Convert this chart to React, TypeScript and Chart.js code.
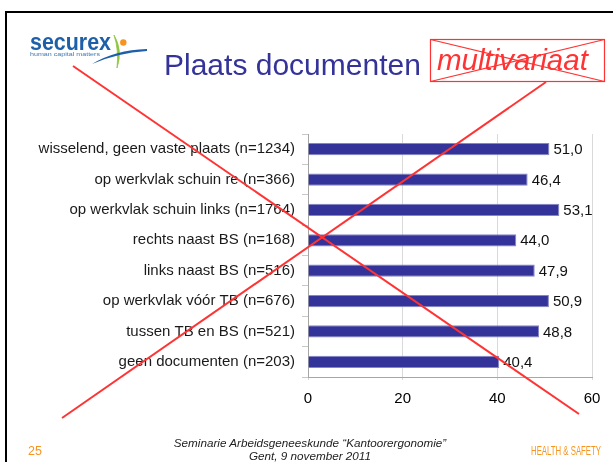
import React, { useEffect, useRef } from "react";
import { Chart, registerables } from "chart.js";
Chart.register(...registerables);

const categories = [
  "wisselend, geen vaste plaats (n=1234)",
  "op werkvlak schuin re (n=366)",
  "op werkvlak schuin links (n=1764)",
  "rechts naast BS (n=168)",
  "links naast BS (n=516)",
  "op werkvlak vóór TB (n=676)",
  "tussen TB en BS (n=521)",
  "geen documenten (n=203)",
];
const values = [51.0, 46.4, 53.1, 44.0, 47.9, 50.9, 48.8, 40.4];
const xTicks = [0, 20, 40, 60];
const titleText = "Plaats documenten";
const crossedText = "multivariaat";
const footerLine1 = "Seminarie Arbeidsgeneeskunde “Kantoorergonomie”";
const footerLine2 = "Gent, 9 november 2011";
const pageNumber = "25";
const brandText = "HEALTH & SAFETY";

const FAMILY = "'Liberation Sans', Arial, Helvetica, sans-serif";

const valueLabels = {
  id: "valueLabels",
  afterDatasetsDraw(chart: any) {
    const ctx = chart.ctx;
    const meta = chart.getDatasetMeta(0);
    ctx.save();
    ctx.font = `15px ${FAMILY}`;
    ctx.fillStyle = "#111";
    ctx.textAlign = "left";
    ctx.textBaseline = "middle";
    meta.data.forEach((bar: any, i: number) => {
      const v = chart.data.datasets[0].data[i] as number;
      ctx.fillText(v.toFixed(1).replace(".", ","), bar.x + 4, bar.y + 1);
    });
    ctx.restore();
  },
};

export default function App() {
  const ref = useRef<HTMLCanvasElement | null>(null);
  useEffect(() => {
    document.body.style.margin = "0";
    if (!ref.current) return;
    const chart = new Chart(ref.current, {
      type: "bar",
      data: {
        labels: categories,
        datasets: [
          {
            data: values,
            backgroundColor: "#333399",
            borderColor: "#8585c2",
            borderWidth: 1,
            barPercentage: 0.4,
            categoryPercentage: 1,
          },
        ],
      },
      options: {
        indexAxis: "y",
        responsive: false,
        animation: false,
        layout: { padding: { top: 134, right: 21, left: 0, bottom: 0 } },
        plugins: { legend: { display: false }, tooltip: { enabled: false } },
        scales: {
          x: {
            min: 0,
            max: 60,
            afterBuildTicks: (s: any) => {
              s.ticks = xTicks.map((v) => ({ value: v }));
            },
            grid: { color: "#d9d9d9", tickLength: 3, drawTicks: true },
            border: { color: "#a6a6a6" },
            ticks: {
              font: { size: 15, family: FAMILY },
              color: "#000",
              padding: 10,
              maxRotation: 0,
            },
            afterFit: (s: any) => {
              s.height = 85;
            },
          },
          y: {
            grid: { drawOnChartArea: false, tickLength: 6, color: "#c8c8c8" },
            border: { color: "#a6a6a6" },
            ticks: {
              font: { size: 15, family: FAMILY },
              color: "#1a1a1a",
              padding: 7,
            },
            afterFit: (s: any) => {
              s.width = 308;
            },
          },
        },
      },
      plugins: [valueLabels],
    } as any);
    return () => chart.destroy();
  }, []);

  return (
    <div
      style={{
        position: "absolute",
        left: 0,
        top: 0,
        width: 613,
        height: 462,
        overflow: "hidden",
        background: "#fff",
      }}
    >
      <canvas
        ref={ref}
        width={613}
        height={462}
        style={{ position: "absolute", left: 0, top: 0, width: 613, height: 462 }}
      />
      <svg
        width={613}
        height={462}
        style={{ position: "absolute", left: 0, top: 0, pointerEvents: "none" }}
      >
        {/* slide border */}
        <line x1={6} y1={12} x2={613} y2={12} stroke="#000" strokeWidth={2} />
        <line x1={6} y1={11} x2={6} y2={462} stroke="#000" strokeWidth={2} />
        {/* logo */}
        <text
          x={30}
          y={50}
          fontSize={24}
          fontWeight="bold"
          fill="#1d5fa8"
          fontFamily={FAMILY}
          textLength={81}
          lengthAdjust="spacingAndGlyphs"
        >
          securex
        </text>
        <text
          x={30}
          y={55.5}
          fontSize={5.5}
          fill="#3d78b5"
          fontFamily={FAMILY}
          textLength={70}
          lengthAdjust="spacingAndGlyphs"
        >
          human capital matters
        </text>
        <circle cx={123.3} cy={42.5} r={3.2} fill="#f7941d" />
        <path d="M114,35 Q123,50 117,68 Q119,50 114,35 Z" fill="#8dc63f" stroke="#8dc63f" strokeWidth={0.8} />
        <path d="M92,64 Q115,50 147,49 L147,51 Q117,53 92,64 Z" fill="#1d5fa8" />
        {/* title */}
        <text x={164} y={75} fontSize={30} fill="#333399" fontFamily={FAMILY}>
          {titleText}
        </text>
        <text x={437} y={70} fontSize={29.5} fontStyle="italic" fill="#ff3333" fontFamily={FAMILY}>
          {crossedText}
        </text>
        <rect x={430.5} y={39.5} width={174} height={42} fill="none" stroke="#ff3333" strokeWidth={1.2} />
        <line x1={430.5} y1={39.5} x2={604.5} y2={81.5} stroke="#ff3333" strokeWidth={1.2} />
        <line x1={430.5} y1={81.5} x2={604.5} y2={39.5} stroke="#ff3333" strokeWidth={1.2} />
        {/* big cross */}
        <line x1={73} y1={66} x2={579} y2={414} stroke="#ff3333" strokeWidth={2} />
        <line x1={62} y1={418} x2={546} y2={82} stroke="#ff3333" strokeWidth={2} />
        {/* footer */}
        <text x={310} y={446.5} fontSize={11.7} fontStyle="italic" fill="#222" textAnchor="middle" fontFamily={FAMILY}>
          {footerLine1}
        </text>
        <text x={310} y={460} fontSize={11.7} fontStyle="italic" fill="#222" textAnchor="middle" fontFamily={FAMILY}>
          {footerLine2}
        </text>
        <text x={28} y={455} fontSize={12.5} fill="#f7941d" fontFamily={FAMILY}>
          {pageNumber}
        </text>
        <text
          x={531}
          y={455}
          fontSize={12.5}
          fill="#f7941d"
          fontFamily={FAMILY}
          textLength={70}
          lengthAdjust="spacingAndGlyphs"
        >
          {brandText}
        </text>
      </svg>
    </div>
  );
}
